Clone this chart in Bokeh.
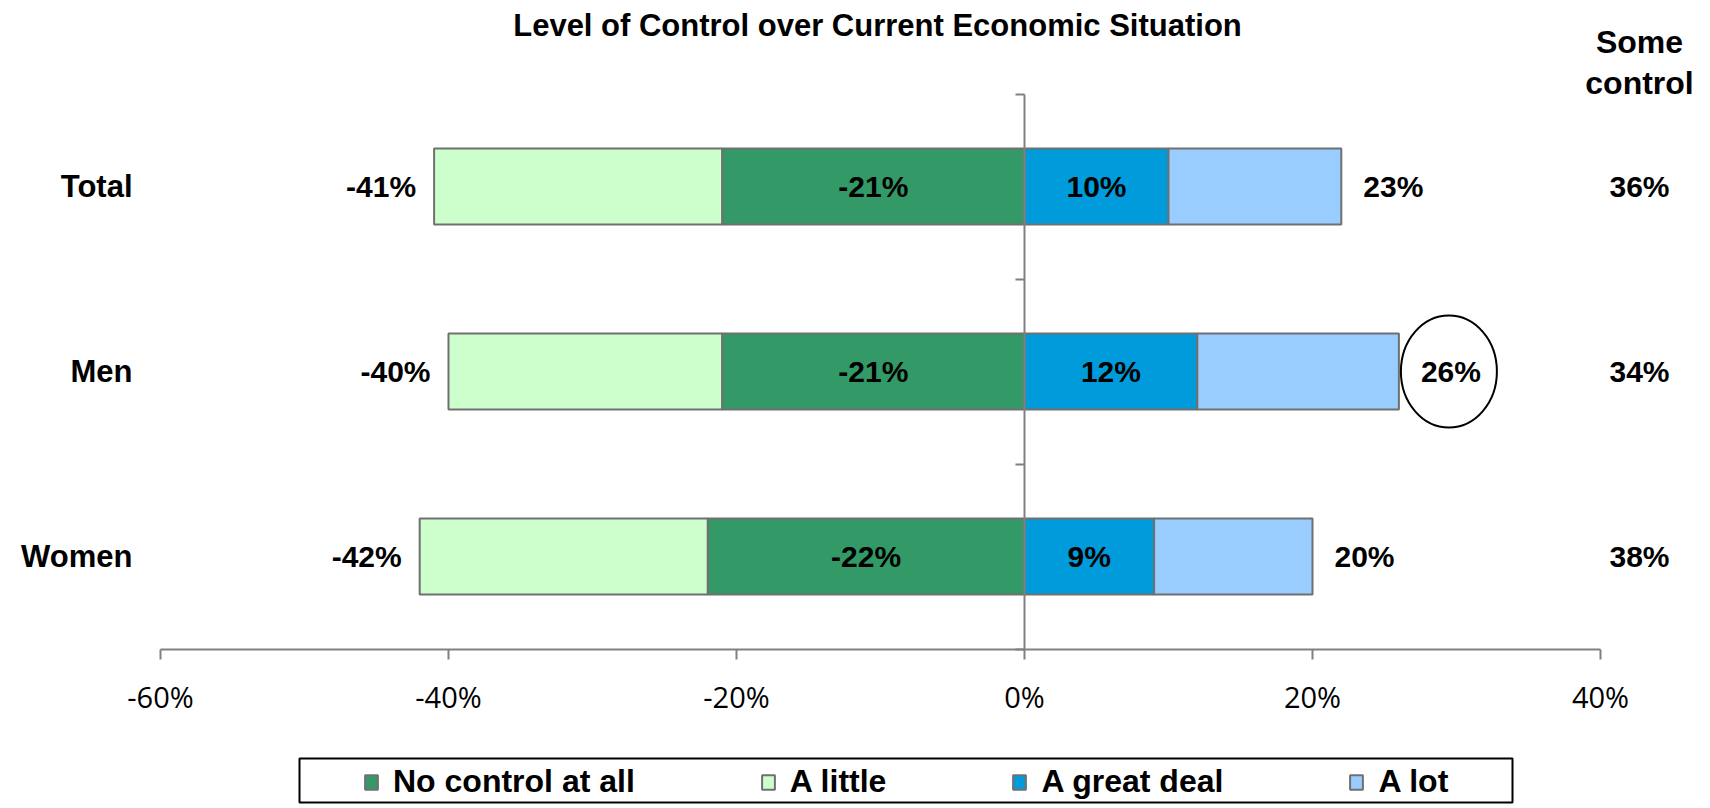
import numpy as np
from bokeh.plotting import figure
from bokeh.models import (LinearAxis, FixedTicker, PrintfTickFormatter, Legend,
                          LegendItem, ColumnDataSource, Range1d)
from bokeh.core.properties import value
from bokeh.embed import file_html
from bokeh.resources import INLINE

# ---------------- data ----------------
categories = ["Total", "Men", "Women"]
no_control = [-21, -21, -22]          # "No control at all"
a_little = [-20, -19, -20]            # "A little"
a_great_deal = [10, 12, 9]            # "A great deal"
a_lot = [12, 14, 11]                  # "A lot"
positive_total_labels = [23, 26, 20]  # net printed at the end of the bars
some_control = [36, 34, 38]           # right-hand column
x_ticks = [-60, -40, -20, 0, 20, 40]
highlight = "Men"
series_names = ["No control at all", "A little", "A great deal", "A lot"]

# ---------------- layout / style ----------------
W, H = 1706, 804
PX_X = 14.4            # px per percentage point
X_LEFT_PX = 160        # canvas px of -60
PX_Y = 185.0           # px per category row
Y_TOP_ROW_PX = 186     # canvas px of the top row centre
x_start = x_ticks[0] - X_LEFT_PX / PX_X
x_end = x_start + W / PX_X
y_end = (len(categories) - 1) + Y_TOP_ROW_PX / PX_Y
y_start = y_end - H / PX_Y

def sx(px):  # canvas px -> data x
    return x_start + px / PX_X

def sy(px):  # canvas px -> data y
    return y_end - px / PX_Y

FONT = "Liberation Sans"
TICK_FONT = "Open Sans"
colors = ["#339966", "#CCFFCC", "#009BDB", "#99CCFF"]
edge = "#707070"
axis_col = "#808080"

n = len(categories)
ypos = [n - 1 - i for i in range(n)]
nc = np.array(no_control, dtype=float)
lt = np.array(a_little, dtype=float)
gd = np.array(a_great_deal, dtype=float)
al = np.array(a_lot, dtype=float)
zeros = np.zeros(n)

src = ColumnDataSource(dict(
    y=ypos,
    nc_l=nc, nc_r=zeros,
    lt_l=nc + lt, lt_r=nc,
    gd_l=zeros, gd_r=gd,
    al_l=gd, al_r=gd + al,
    nc_mid=nc / 2, gd_mid=gd / 2,
    nc_txt=[f"{int(v)}%" for v in nc],
    gd_txt=[f"{int(v)}%" for v in gd],
    neg_txt=[f"{int(v)}%" for v in nc + lt],
    pos_txt=[f"{v}%" for v in positive_total_labels],
    sc_txt=[f"{v}%" for v in some_control],
))

p = figure(width=W, height=H, x_range=Range1d(x_start, x_end),
           y_range=Range1d(y_start, y_end), x_axis_type=None, y_axis_type=None,
           output_backend="svg", toolbar_location=None, min_border=0,
           outline_line_color=None, background_fill_color="white")

BAR_H = 0.41
r_nc = p.hbar(y="y", left="nc_l", right="nc_r", height=BAR_H, source=src,
              fill_color=colors[0], line_color=edge, line_width=2)
r_lt = p.hbar(y="y", left="lt_l", right="lt_r", height=BAR_H, source=src,
              fill_color=colors[1], line_color=edge, line_width=2)
r_gd = p.hbar(y="y", left="gd_l", right="gd_r", height=BAR_H, source=src,
              fill_color=colors[2], line_color=edge, line_width=2)
r_al = p.hbar(y="y", left="al_l", right="al_r", height=BAR_H, source=src,
              fill_color=colors[3], line_color=edge, line_width=2)

txt = dict(text_font=value(FONT), text_font_style="bold", text_font_size="30px",
           text_color="black", text_baseline="middle")
p.text(x="nc_mid", y="y", text="nc_txt", source=src, text_align="center", **txt)
p.text(x="gd_mid", y="y", text="gd_txt", source=src, text_align="center", **txt)
p.text(x="lt_l", y="y", text="neg_txt", source=src, text_align="right", x_offset=-18, **txt)
p.text(x="al_r", y="y", text="pos_txt", source=src, text_align="left", x_offset=22, **txt)

SIDE_X = sx(1639)
p.text(x=[SIDE_X] * n, y=ypos, text=src.data["sc_txt"], text_align="center", **txt)
hdr = dict(txt, text_font_size="32px")
p.text(x=[SIDE_X], y=[sy(62)], text=["Some\ncontrol"], text_align="center",
       text_line_height=1.15, **hdr)

# title
p.text(x=[sx(877)], y=[sy(25)], text=["Level of Control over Current Economic Situation"],
       text_align="center", text_baseline="middle", text_font=value(FONT),
       text_font_style="bold", text_font_size="31px", text_color="black")

# highlight ellipse around the Men total
hi = categories.index(highlight)
p.ellipse(x=[(gd + al)[hi] + 50 / PX_X], y=[ypos[hi]], width=96, height=112,
          width_units="screen", height_units="screen", fill_alpha=0,
          line_color="black", line_width=2)

# x axis (value axis) at the bottom of the category band
xaxis = LinearAxis(fixed_location=min(ypos) - 0.5, ticker=FixedTicker(ticks=x_ticks),
                   formatter=PrintfTickFormatter(format="%d%%"),
                   bounds=(x_ticks[0], x_ticks[-1]),
                   axis_line_color=axis_col, axis_line_width=2,
                   major_tick_line_color=axis_col, major_tick_line_width=2,
                   major_tick_out=10, major_tick_in=0,
                   minor_tick_out=0, minor_tick_in=0, minor_tick_line_color=None,
                   major_label_text_font=TICK_FONT, major_label_text_font_size="29px",
                   major_label_text_color="black", major_label_standoff=18)
p.add_layout(xaxis, "below")

# category labels
cat_axis = LinearAxis(fixed_location=x_ticks[0], ticker=FixedTicker(ticks=ypos),
                      major_label_overrides={y: c for y, c in zip(ypos, categories)},
                      axis_line_color=None, major_tick_line_color=None,
                      minor_tick_line_color=None, major_tick_out=0, major_tick_in=0,
                      minor_tick_out=0, minor_tick_in=0,
                      major_label_text_font=FONT, major_label_text_font_style="bold",
                      major_label_text_font_size="31px", major_label_text_color="black",
                      major_label_standoff=28)
p.add_layout(cat_axis, "left")

# vertical zero line with category separators
bticks = sorted([y - 0.5 for y in ypos] + [max(ypos) + 0.5])
zero_axis = LinearAxis(fixed_location=0, ticker=FixedTicker(ticks=bticks),
                       bounds=(bticks[0], bticks[-1]),
                       major_label_overrides={t: "" for t in bticks},
                       axis_line_color=axis_col, axis_line_width=2,
                       major_tick_line_color=axis_col, major_tick_line_width=2,
                       major_tick_out=9, major_tick_in=0,
                       minor_tick_out=0, minor_tick_in=0, minor_tick_line_color=None)
p.add_layout(zero_axis, "left")

# legend
legend = Legend(items=[LegendItem(label=series_names[0], renderers=[r_nc]),
                       LegendItem(label=series_names[1], renderers=[r_lt]),
                       LegendItem(label=series_names[2], renderers=[r_gd]),
                       LegendItem(label=series_names[3], renderers=[r_al])],
                orientation="horizontal", location=(363, 4),
                glyph_width=16, glyph_height=18, label_standoff=14, spacing=125,
                padding=0, margin=0, border_line_alpha=0, background_fill_alpha=0,
                label_text_font=FONT, label_text_font_style="bold",
                label_text_font_size="32px", label_text_color="black")
p.add_layout(legend)

# legend frame
p.quad(left=[sx(299)], right=[sx(1512)], top=[sy(758)], bottom=[sy(802)],
       fill_alpha=0, line_color="black", line_width=2)

open("out.html", "w").write(file_html(p, INLINE))
